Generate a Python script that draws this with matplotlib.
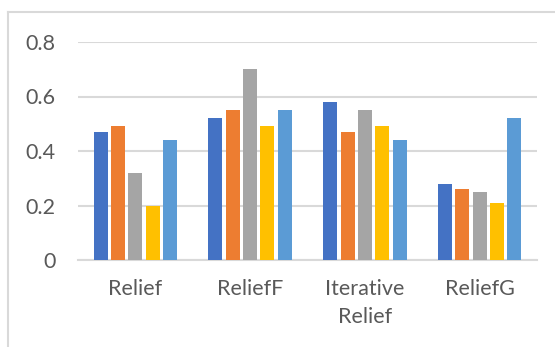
import numpy as np
import matplotlib
matplotlib.use("Agg")
import matplotlib.pyplot as plt
from matplotlib.lines import Line2D

plt.rcParams['font.family'] = ['Lato', 'DejaVu Sans']

# Scores per method, one list per series
categories = ["Relief", "ReliefF", "Iterative\nRelief", "ReliefG"]
series_1 = [0.47, 0.52, 0.58, 0.28]
series_2 = [0.49, 0.55, 0.47, 0.26]
series_3 = [0.32, 0.70, 0.55, 0.25]
series_4 = [0.20, 0.49, 0.49, 0.21]
series_5 = [0.44, 0.55, 0.44, 0.52]
y_ticks = [0, 0.2, 0.4, 0.6, 0.8]
y_tick_labels = ["0", "0.2", "0.4", "0.6", "0.8"]

colors = ["#4472C4", "#ED7D31", "#A5A5A5", "#FFC000", "#5B9BD5"]
text_color = "#595959"
grid_color = "#D9D9D9"

W, H = 555, 347
fig = plt.figure(figsize=(W / 100, H / 100), dpi=100)
ax = fig.add_axes([78 / W, 1 - 260 / H, (537 - 78) / W, (260 - 42) / H])

x = np.arange(len(categories))
step = 0.151
width = 0.122
all_series = [series_1, series_2, series_3, series_4, series_5]
for i, vals in enumerate(all_series):
    offs = (i - (len(all_series) - 1) / 2) * step
    ax.bar(x + offs, vals, width, color=colors[i], zorder=3)

ax.set_xlim(-0.5, len(categories) - 0.5)
ax.set_ylim(0, 0.8)
ax.set_yticks(y_ticks)
ax.set_yticklabels(y_tick_labels)
ax.set_xticks(x)
ax.set_xticklabels(categories, linespacing=1.5)
ax.yaxis.grid(True, color=grid_color, linewidth=1.5, zorder=0)
ax.set_axisbelow(True)
for s in ["top", "right", "left"]:
    ax.spines[s].set_visible(False)
ax.spines["bottom"].set_color(grid_color)
ax.spines["bottom"].set_linewidth(1.5)
ax.spines["bottom"].set_zorder(2)
ax.tick_params(axis="both", length=0, colors=text_color, labelsize=15.5)
ax.tick_params(axis="y", pad=16)
ax.tick_params(axis="x", pad=14)

# chart area border (top and left edges)
fig.add_artist(Line2D([8 / W, 8 / W], [0, 1 - 12 / H], color=grid_color,
                      linewidth=1.5, transform=fig.transFigure))
fig.add_artist(Line2D([8 / W, 1], [1 - 12 / H, 1 - 12 / H], color=grid_color,
                      linewidth=1.5, transform=fig.transFigure))

fig.savefig("out.png", dpi=100, facecolor="white")
